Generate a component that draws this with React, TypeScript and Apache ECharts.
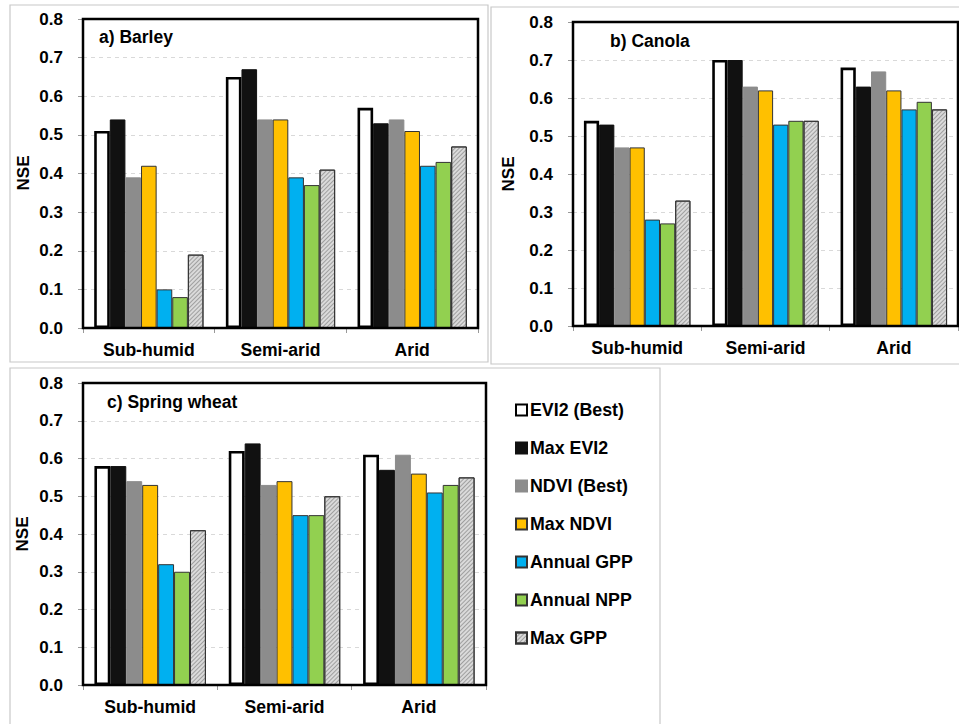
import React, { useEffect, useRef } from "react";
import * as echarts from "echarts";

// Climate zones on the category axis
const zones = ["Sub-humid", "Semi-arid", "Arid"];

// Predictor names (legend order)
const predictors = [
  "EVI2 (Best)",
  "Max EVI2",
  "NDVI (Best)",
  "Max NDVI",
  "Annual GPP",
  "Annual NPP",
  "Max GPP",
];

const yTicks = [0, 0.1, 0.2, 0.3, 0.4, 0.5, 0.6, 0.7, 0.8];

// NSE per predictor, one value per zone (Sub-humid, Semi-arid, Arid)
const barleyNSE = [
  [0.51, 0.65, 0.57],
  [0.54, 0.67, 0.53],
  [0.39, 0.54, 0.54],
  [0.42, 0.54, 0.51],
  [0.1, 0.39, 0.42],
  [0.08, 0.37, 0.43],
  [0.19, 0.41, 0.47],
];

const canolaNSE = [
  [0.54, 0.7, 0.68],
  [0.53, 0.7, 0.63],
  [0.47, 0.63, 0.67],
  [0.47, 0.62, 0.62],
  [0.28, 0.53, 0.57],
  [0.27, 0.54, 0.59],
  [0.33, 0.54, 0.57],
];

const springWheatNSE = [
  [0.58, 0.62, 0.61],
  [0.58, 0.64, 0.57],
  [0.54, 0.53, 0.61],
  [0.53, 0.54, 0.56],
  [0.32, 0.45, 0.51],
  [0.3, 0.45, 0.53],
  [0.41, 0.5, 0.55],
];

const panelTitles = ["a) Barley", "b) Canola", "c) Spring wheat"];

const FONT = '"Liberation Sans", Arial, sans-serif';

const barStyles: any[] = [
  { color: "#ffffff", borderColor: "#000000", borderWidth: 2.6 },
  { color: "#111111", borderColor: "#111111", borderWidth: 1 },
  { color: "#8c8c8c", borderColor: "#8c8c8c", borderWidth: 1 },
  { color: "#ffc000", borderColor: "#333333", borderWidth: 1 },
  { color: "#00b0f0", borderColor: "#333333", borderWidth: 1 },
  { color: "#92d050", borderColor: "#333333", borderWidth: 1 },
  {
    color: "#dadada",
    borderColor: "#333333",
    borderWidth: 1,
    decal: {
      symbol: "rect",
      symbolSize: 1,
      dashArrayX: [1, 0],
      dashArrayY: [1, 1.6],
      rotation: -Math.PI / 4,
      color: "rgba(120,120,120,0.6)",
      backgroundColor: "#dcdcdc",
    },
  },
];

// Plot areas of the three panels
const grids = [
  { left: 83, top: 19, width: 395, height: 309 },
  { left: 573, top: 22, width: 385, height: 304 },
  { left: 83, top: 383, width: 403, height: 302 },
];

const panelData = [barleyNSE, canolaNSE, springWheatNSE];

export default function App() {
  const ref = useRef<HTMLDivElement>(null);

  useEffect(() => {
    if (!ref.current) return;
    const chart = echarts.init(ref.current, null, { renderer: "svg" });

    const tickFont = { fontFamily: FONT, fontWeight: "bold" as const, fontSize: 17, color: "#000" };

    const xAxis = grids.map((_, i) => ({
      type: "category" as const,
      gridIndex: i,
      data: zones,
      axisLine: { show: true, lineStyle: { color: "#000", width: 2 } },
      axisTick: { show: true, length: 5, lineStyle: { color: "#999" } },
      axisLabel: { ...tickFont, fontSize: 17.6, margin: 13 },
    }));

    const yAxis = grids.map((_, i) => ({
      type: "value" as const,
      gridIndex: i,
      min: 0,
      max: 0.8,
      interval: 0.1,
      axisLine: { show: false },
      axisTick: { show: true, length: 5, lineStyle: { color: "#999" } },
      axisLabel: {
        ...tickFont,
        margin: 20,
        formatter: (v: number) => (yTicks.some((t) => Math.abs(t - v) < 1e-9) ? v.toFixed(1) : ""),
      },
      splitLine: { show: true, lineStyle: { color: "#d9d9d9", type: [4, 4] as any } },
    }));

    const series: any[] = [];
    panelData.forEach((rows, p) => {
      rows.forEach((vals, k) => {
        series.push({
          type: "bar",
          name: predictors[k],
          xAxisIndex: p,
          yAxisIndex: p,
          data: vals,
          barGap: "0%",
          barCategoryGap: "17%",
          itemStyle: barStyles[k],
          emphasis: { disabled: true },
        });
      });
    });

    // Light outer frames around each panel
    const frames = [
      { x: 10, y: 5, width: 478, height: 357 },
      { x: 491, y: 7, width: 475, height: 357 },
      { x: 10, y: 368, width: 650, height: 360 },
    ].map((s) => ({
      type: "rect",
      shape: s,
      style: { fill: "none", stroke: "#c8c8c8", lineWidth: 1.2 },
      silent: true,
      z: -10,
    }));

    const titlePos = [
      { x: 99, y: 37 },
      { x: 610, y: 41 },
      { x: 107, y: 402 },
    ];
    const titles = panelTitles.map((t, i) => ({
      type: "text",
      x: titlePos[i].x,
      y: titlePos[i].y,
      style: {
        text: t,
        fill: "#000",
        font: `bold 17.5px ${FONT}`,
        align: "left",
        verticalAlign: "middle",
      },
      z: 50,
    }));

    const nsePos = [
      { x: 23, y: 173 },
      { x: 508, y: 174 },
      { x: 22, y: 534 },
    ];
    const nseLabels = nsePos.map((p) => ({
      type: "text",
      x: p.x,
      y: p.y,
      rotation: Math.PI / 2,
      style: {
        text: "NSE",
        fill: "#000",
        font: `bold 17px ${FONT}`,
        align: "center",
        verticalAlign: "middle",
      },
    }));

    chart.setOption({
      animation: false,
      backgroundColor: "#ffffff",
      grid: grids.map((g) => ({
        ...g,
        show: true,
        borderColor: "#000",
        borderWidth: 2.5,
        backgroundColor: "transparent",
        containLabel: false,
        z: 5,
      })),
      xAxis,
      yAxis,
      legend: {
        data: predictors,
        orient: "vertical",
        left: 510,
        top: 395,
        itemWidth: 11,
        itemHeight: 11,
        itemGap: 18,
        icon: "rect",
        selectedMode: false,
        textStyle: {
          fontFamily: FONT,
          fontWeight: "bold",
          fontSize: 17.8,
          color: "#000",
          lineHeight: 20,
          padding: [0, 0, 0, -2],
        },
      },
      graphic: [...frames, ...titles, ...nseLabels],
      series,
    });

    return () => chart.dispose();
  }, []);

  return (
    <div
      ref={ref}
      style={{ position: "absolute", left: 0, top: 0, width: 959, height: 724 }}
    />
  );
}
